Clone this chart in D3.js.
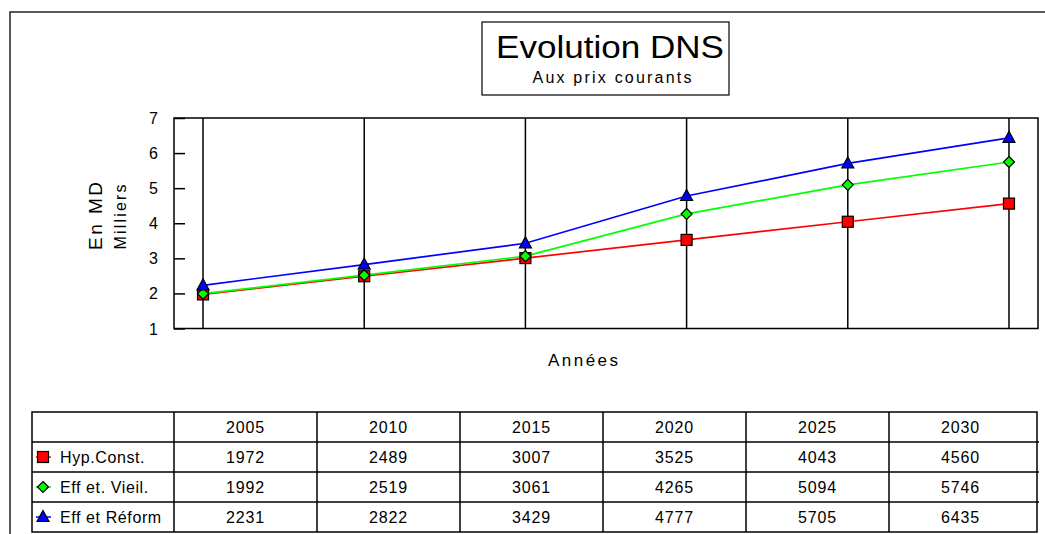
<!DOCTYPE html>
<meta charset="utf-8">
<title>Evolution DNS</title>
<style>
  body { margin: 0; background: #fff; }
  text { font-family: "Liberation Sans", Arial, sans-serif; fill: #000; }
</style>
<body>
<script src="https://cdn.jsdelivr.net/npm/d3@7"></script>
<script>
// data (en milliers de MD)
var years = ['2005', '2010', '2015', '2020', '2025', '2030'];
var hypConst = [1972, 2489, 3007, 3525, 4043, 4560];
var effetVieil = [1992, 2519, 3061, 4265, 5094, 5746];
var effetReform = [2231, 2822, 3429, 4777, 5705, 6435];
var seriesNames = ['Hyp.Const.', 'Eff et. Vieil.', 'Eff et Réform'];
var yTicks = [1, 2, 3, 4, 5, 6, 7];

var series = [
  {name: seriesNames[0], values: hypConst, color: '#ff0000', shape: 'square'},
  {name: seriesNames[1], values: effetVieil, color: '#00ff00', shape: 'diamond'},
  {name: seriesNames[2], values: effetReform, color: '#0000ff', shape: 'triangle'}
];

var W = 1045, H = 534;
var plot = {left: 174, right: 1038, top: 118, bottom: 328.5};

var svg = d3.select('body').append('svg')
  .attr('width', W)
  .attr('height', H);

// outer frame
svg.append('rect')
  .attr('x', 10).attr('y', 12)
  .attr('width', 1060).attr('height', 560)
  .style('fill', 'none').style('stroke', '#222').style('stroke-width', 1.5);

// title box
svg.append('rect')
  .attr('x', 482).attr('y', 22)
  .attr('width', 247).attr('height', 73)
  .style('fill', '#fff').style('stroke', '#000').style('stroke-width', 1.2);
svg.append('text')
  .attr('x', 610).attr('y', 58)
  .attr('text-anchor', 'middle')
  .style('font-size', '32px')
  .attr('textLength', 228).attr('lengthAdjust', 'spacingAndGlyphs')
  .text('Evolution DNS');
svg.append('text')
  .attr('x', 612).attr('y', 83)
  .attr('text-anchor', 'middle')
  .style('font-size', '16px')
  .attr('textLength', 159).attr('lengthAdjust', 'spacing')
  .text('Aux prix courants');

var x = d3.scalePoint()
  .domain(years)
  .range([plot.left, plot.right])
  .padding(0.18);

var y = d3.scaleLinear()
  .domain([1, 7])
  .range([plot.bottom, plot.top]);

// vertical grid lines at each year
svg.selectAll('.grid')
  .data(years)
  .enter().append('line')
  .attr('x1', function(d) { return x(d); })
  .attr('x2', function(d) { return x(d); })
  .attr('y1', plot.top).attr('y2', plot.bottom)
  .style('stroke', '#000').style('stroke-width', 1.5);

// plot border
svg.append('rect')
  .attr('x', plot.left).attr('y', plot.top)
  .attr('width', plot.right - plot.left).attr('height', plot.bottom - plot.top)
  .style('fill', 'none').style('stroke', '#000').style('stroke-width', 1.5);

// y axis, ticks pointing inward
var yAxis = d3.axisRight(y).tickValues(yTicks).tickSize(11).tickFormat('');
var gy = svg.append('g')
  .attr('transform', 'translate(' + plot.left + ',0)')
  .call(yAxis);
gy.select('.domain').remove();
gy.selectAll('line').style('stroke', '#000').style('stroke-width', 1.5);

svg.selectAll('.ylab')
  .data(yTicks)
  .enter().append('text')
  .attr('x', 158)
  .attr('y', function(d) { return y(d) + 6; })
  .attr('text-anchor', 'end')
  .style('font-size', '16px')
  .text(function(d) { return d; });

// axis titles
svg.append('text')
  .attr('transform', 'translate(102,216) rotate(-90)')
  .attr('text-anchor', 'middle')
  .style('font-size', '19px')
  .attr('textLength', 68).attr('lengthAdjust', 'spacing')
  .text('En MD');
svg.append('text')
  .attr('transform', 'translate(126,217) rotate(-90)')
  .attr('text-anchor', 'middle')
  .style('font-size', '16px')
  .attr('textLength', 65).attr('lengthAdjust', 'spacing')
  .text('Milliers');
svg.append('text')
  .attr('x', 583).attr('y', 366)
  .attr('text-anchor', 'middle')
  .style('font-size', '17px')
  .attr('textLength', 70).attr('lengthAdjust', 'spacing')
  .text('Années');

function marker(g, shape, cx, cy, color) {
  var p;
  if (shape === 'square') {
    p = g.append('rect')
      .attr('x', cx - 5.5).attr('y', cy - 5.5)
      .attr('width', 11).attr('height', 11);
  } else if (shape === 'diamond') {
    p = g.append('path')
      .attr('d', 'M' + cx + ',' + (cy - 5.5) + 'L' + (cx + 5.5) + ',' + cy +
                 'L' + cx + ',' + (cy + 5.5) + 'L' + (cx - 5.5) + ',' + cy + 'Z');
  } else {
    p = g.append('path')
      .attr('d', 'M' + cx + ',' + (cy - 6.5) + 'L' + (cx + 6) + ',' + (cy + 4.5) +
                 'L' + (cx - 6) + ',' + (cy + 4.5) + 'Z');
  }
  p.style('fill', color).style('stroke', '#000').style('stroke-width', 1.2);
}

var line = d3.line()
  .x(function(d, i) { return x(years[i]); })
  .y(function(d) { return y(d / 1000); });

series.forEach(function(s) {
  svg.append('path')
    .datum(s.values)
    .attr('d', line)
    .style('fill', 'none').style('stroke', s.color).style('stroke-width', 1.7);
});
series.forEach(function(s) {
  var g = svg.append('g');
  s.values.forEach(function(v, i) {
    marker(g, s.shape, x(years[i]), y(v / 1000), s.color);
  });
});

// data table
var tbl = {left: 32, first: 174, right: 1037, top: 412, rowH: 30};
var col = d3.scaleBand()
  .domain(years)
  .range([tbl.first, 1032]);
var nRows = series.length + 1;

var tg = svg.append('g');
tg.append('rect')
  .attr('x', tbl.left).attr('y', tbl.top)
  .attr('width', tbl.right - tbl.left).attr('height', nRows * tbl.rowH)
  .style('fill', '#fff').style('stroke', '#000').style('stroke-width', 1.5);
for (var r = 1; r < nRows; r++) {
  tg.append('line')
    .attr('x1', tbl.left).attr('x2', tbl.right + 2)
    .attr('y1', tbl.top + r * tbl.rowH).attr('y2', tbl.top + r * tbl.rowH)
    .style('stroke', '#000').style('stroke-width', 1.5);
}
years.forEach(function(yr) {
  tg.append('line')
    .attr('x1', col(yr)).attr('x2', col(yr))
    .attr('y1', tbl.top).attr('y2', tbl.top + nRows * tbl.rowH)
    .style('stroke', '#000').style('stroke-width', 1.5);
  tg.append('text')
    .attr('x', col(yr) + col.bandwidth() / 2)
    .attr('y', tbl.top + tbl.rowH / 2 + 6)
    .attr('text-anchor', 'middle')
    .style('font-size', '16px').style('letter-spacing', '0.8px')
    .text(yr);
});

series.forEach(function(s, k) {
  var cy = tbl.top + (k + 1) * tbl.rowH + tbl.rowH / 2;
  tg.append('line')
    .attr('x1', 36).attr('x2', 51)
    .attr('y1', cy).attr('y2', cy)
    .style('stroke', s.color).style('stroke-width', 1.5);
  marker(tg, s.shape, 43, cy, s.color);
  tg.append('text')
    .attr('x', 60).attr('y', cy + 6)
    .style('font-size', '16px').style('letter-spacing', '0.6px')
    .text(s.name);
  s.values.forEach(function(v, i) {
    tg.append('text')
      .attr('x', col(years[i]) + col.bandwidth() / 2)
      .attr('y', cy + 6)
      .attr('text-anchor', 'middle')
      .style('font-size', '16px').style('letter-spacing', '0.8px')
      .text(v);
  });
});
</script>
</body>
